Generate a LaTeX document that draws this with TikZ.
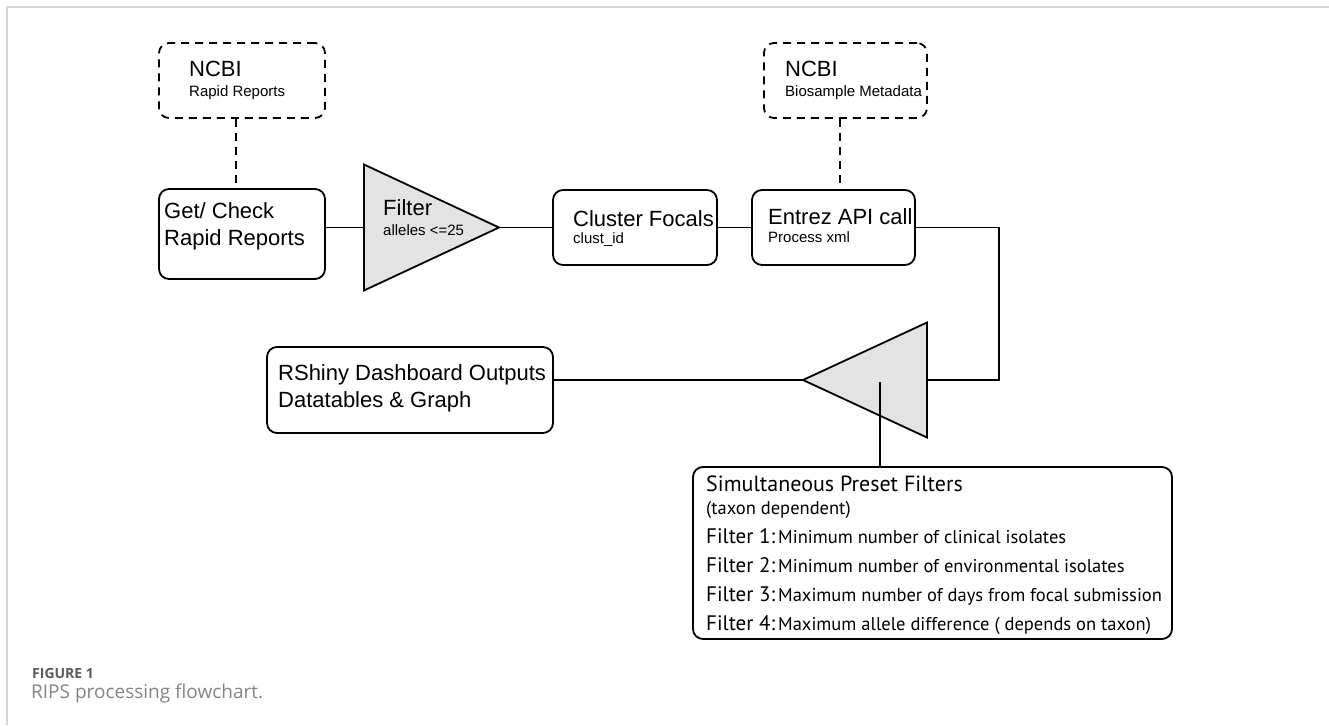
\documentclass[tikz,border=0pt]{standalone}
\usepackage{fontspec}
\setmainfont{Liberation Sans}
\newfontfamily\presetfont{PT Sans}
\newfontfamily\capfont{Open Sans}
\usetikzlibrary{shapes.geometric,calc}
\definecolor{framegray}{HTML}{D6D6D6}
\definecolor{trifill}{HTML}{E3E3E3}
\definecolor{capdark}{HTML}{5A5A5A}
\definecolor{caplight}{HTML}{858585}
\tikzset{
  proc box/.style={draw, line width=1.8pt, rounded corners=10pt, inner sep=0pt},
  source box/.style={proc box, dash pattern=on 8pt off 6pt},
  filter tri/.style={draw, line width=1.8pt, fill=trifill, isosceles triangle,
    isosceles triangle stretches, inner sep=0pt, outer sep=0pt},
  link/.style={line width=1.8pt},
  dash link/.style={link, dash pattern=on 8pt off 6pt},
  main text/.style={inner sep=0pt, anchor=base west, font=\fontsize{22}{26}\selectfont},
  sub text/.style={inner sep=0pt, anchor=base west, font=\fontsize{15}{18}\selectfont},
  preset text/.style={inner sep=0pt, anchor=base west, font=\presetfont\fontsize{18.5}{22}\selectfont},
}

\begin{document}
\begin{tikzpicture}[x=1pt, y=-1pt]

  \useasboundingbox (0,0) rectangle (1329,725);
  \fill[white] (0,0) rectangle (1329,725);

  % Frame
  \draw[framegray, line width=2pt] (7,725) -- (7,7) -- (1329,7);

  % NCBI sources (dashed)
  \node[source box, minimum width=166pt, minimum height=75pt] (ncbiA) at (242,80.5) {};
  \node[main text] (ncbiA-t) at (189,76) {NCBI};
  \node[sub text] (ncbiA-s) at (189,96) {Rapid Reports};

  \node[source box, minimum width=163pt, minimum height=75pt] (ncbiB) at (845.5,80.5) {};
  \node[main text] (ncbiB-t) at (785,77) {NCBI};
  \node[sub text] (ncbiB-s) at (785,96) {Biosample Metadata};

  % Processing steps
  \node[proc box, minimum width=166pt, minimum height=90pt] (getchk) at (242,234) {};
  \node[main text] (getchk-a) at (164,218) {Get/ Check};
  \node[main text] (getchk-b) at (164,245) {Rapid Reports};

  \node[filter tri, minimum width=126pt, minimum height=135pt, anchor=apex] (filt) at (499,227.5) {};
  \node[main text] (filt-a) at (383,215) {Filter};
  \node[sub text] (filt-b) at (383,235) {alleles <=25};

  \node[proc box, minimum width=164pt, minimum height=75pt] (cluster) at (635,227.5) {};
  \node[main text] (cluster-a) at (573,226) {Cluster Focals};
  \node[sub text] (cluster-b) at (573,243) {clust\_id};

  \node[proc box, minimum width=163pt, minimum height=75pt] (entrez) at (833.5,227.5) {};
  \node[main text] (entrez-a) at (768,224) {Entrez API call};
  \node[sub text] (entrez-b) at (768,242) {Process xml};

  \node[filter tri, minimum width=115pt, minimum height=124pt, shape border rotate=180,
    anchor=apex] (sel) at (803,380) {};

  \node[proc box, minimum width=286pt, minimum height=86pt] (rshiny) at (410,390) {};
  \node[main text] (rshiny-a) at (278,380) {RShiny Dashboard Outputs};
  \node[main text] (rshiny-b) at (278,407) {Datatables \& Graph};

  % Preset filters
  \node[proc box, minimum width=479pt, minimum height=172pt] (preset) at (932.5,553) {};
  \node[preset text, font=\presetfont\fontsize{22}{26}\selectfont] (preset-t) at (706,491)
    {Simultaneous Preset Filters};
  \node[preset text] (preset-s) at (706,514) {(taxon dependent)};
  \foreach \n/\txt in {1/{Minimum number of clinical isolates},
                       2/{Minimum number of environmental isolates},
                       3/{Maximum number of days from focal submission},
                       4/{Maximum allele difference ( depends on taxon)}} {
    \node[preset text] (preset-\n) at (706,514+29*\n)
      {{\fontsize{21}{25}\selectfont Filter \n:}\hspace{3pt}\txt};
  }

  % Connectors
  \draw[dash link] ([xshift=-6pt]ncbiA.south) -- ([xshift=-6pt]getchk.north);
  \draw[dash link] ([xshift=-5.5pt]ncbiB.south) -- ([xshift=-5.5pt]ncbiB.south |- entrez.north);
  \draw[link] (filt.lower side -| getchk.east) -- (filt.lower side);
  \draw[link] (filt.apex) -- (cluster.west);
  \draw[link] (cluster.east) -- (entrez.east -| entrez.west);
  \coordinate (bend) at (999,227.5);
  \draw[link] (entrez.east) -- (bend) |- (sel.lower side);
  \draw[link] (sel.apex) -- (sel.apex -| rshiny.east);
  \coordinate (tap) at (880,382);
  \draw[link] (tap) -- (tap |- preset.north);

  % Caption
  \node[inner sep=0pt, anchor=base west, text=capdark,
    font=\capfont\bfseries\fontsize{14}{16}\selectfont] (fig-no) at (32,678) {FIGURE 1};
  \node[inner sep=0pt, anchor=base west, text=caplight,
    font=\capfont\fontsize{19}{22}\selectfont] (fig-cap) at (31,698) {RIPS processing flowchart.};

\end{tikzpicture}
\end{document}
